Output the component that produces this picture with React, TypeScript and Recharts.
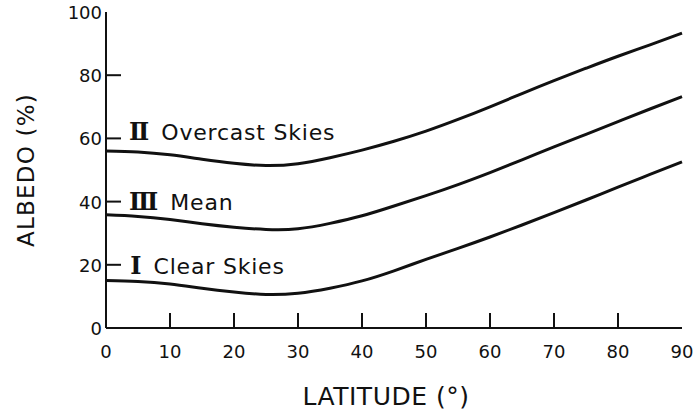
import { LineChart, Line, XAxis, YAxis, ReferenceDot } from "recharts";

// albedo (%) by latitude (deg), three sky conditions
const latitude = [0, 5, 10, 15, 20, 25, 30, 35, 40, 45, 50, 55, 60, 65, 70, 75, 80, 85, 90];
const overcast = [56, 55.7, 54.8, 53.4, 52.1, 51.4, 52, 53.9, 56.3, 59.1, 62.3, 66, 70, 74.2, 78.3, 82.2, 86, 89.6, 93.3];
const mean = [35.8, 35.3, 34.3, 33, 31.9, 31.2, 31.4, 33.1, 35.5, 38.6, 41.9, 45.4, 49.2, 53.2, 57.3, 61.3, 65.3, 69.3, 73.2];
const clear = [15, 14.7, 13.9, 12.6, 11.4, 10.6, 11, 12.6, 14.9, 18.1, 21.7, 25.2, 28.8, 32.6, 36.5, 40.5, 44.6, 48.6, 52.6];

const xTicks = [0, 10, 20, 30, 40, 50, 60, 70, 80, 90];
const yTicks = [0, 20, 40, 60, 80, 100];

const rows = latitude.map((lat, i) => ({
  lat,
  overcast: overcast[i],
  mean: mean[i],
  clear: clear[i],
}));

const INK = "#111";
const SANS = "'DejaVu Sans', sans-serif";
const SERIF = "'DejaVu Serif', serif";
const TICK = 15;

const isEdge = (v: number, lo: number, hi: number) => v === lo || v === hi;

function BottomTick({ x, y, payload }: any) {
  const v = payload.value;
  return (
    <g>
      {!isEdge(v, 0, 90) && <line x1={x} x2={x} y1={y} y2={y - TICK} stroke={INK} strokeWidth={2} />}
      <text x={x} y={y + 30} textAnchor="middle" fontSize={18} fontFamily={SANS} fill={INK}>
        {v}
      </text>
    </g>
  );
}

function TopTick({ x, y, payload }: any) {
  if (isEdge(payload.value, 0, 90)) return <g />;
  return <line x1={x} x2={x} y1={y} y2={y + TICK} stroke={INK} strokeWidth={2} />;
}

function LeftTick({ x, y, payload }: any) {
  const v = payload.value;
  return (
    <g>
      {!isEdge(v, 0, 100) && <line x1={x} x2={x + TICK} y1={y} y2={y} stroke={INK} strokeWidth={2} />}
      <text x={x - 4} y={y + 7} textAnchor="end" fontSize={18} fontFamily={SANS} fill={INK}>
        {v}
      </text>
    </g>
  );
}

function RightTick({ x, y, payload }: any) {
  if (isEdge(payload.value, 0, 100)) return <g />;
  return <line x1={x} x2={x - TICK} y1={y} y2={y} stroke={INK} strokeWidth={2} />;
}

function CurveTag({ viewBox, numeral, name }: any) {
  const { x, y } = viewBox;
  return (
    <text x={x} y={y} fontSize={22} fontFamily={SANS} fill={INK}>
      <tspan fontFamily={SERIF} fontWeight={700} fontSize={24}>
        {numeral}
      </tspan>
      <tspan dx={12} letterSpacing={0.8}>
        {name}
      </tspan>
    </text>
  );
}

function XTitle({ viewBox }: any) {
  return (
    <text
      x={viewBox.x + viewBox.width / 2 - 8}
      y={viewBox.y + viewBox.height + 47}
      textAnchor="middle"
      fontSize={25}
      letterSpacing={0.5}
      fontFamily={SANS}
      fill={INK}
    >
      LATITUDE (°)
    </text>
  );
}

function YTitle({ viewBox }: any) {
  const cx = viewBox.x - 22;
  const cy = viewBox.y + viewBox.height / 2;
  return (
    <text
      transform={`translate(${cx}, ${cy}) rotate(-90)`}
      textAnchor="middle"
      fontSize={23}
      letterSpacing={1.2}
      fontFamily={SANS}
      fill={INK}
    >
      ALBEDO (%)
    </text>
  );
}

const frame = { stroke: INK, strokeWidth: 2 };

export default function App() {
  return (
    <div style={{ width: 699, height: 412, background: "#fff" }}>
      <style>{"body{margin:0}"}</style>
      <LineChart width={699} height={412} data={rows} margin={{ top: 12, right: 17, bottom: 54, left: 56 }}>
        <XAxis
          dataKey="lat"
          type="number"
          domain={[0, 90]}
          ticks={xTicks}
          height={30}
          tickSize={0}
          tickMargin={0}
          tickLine={false}
          axisLine={frame}
          tick={<BottomTick />}
          label={<XTitle />}
        />
        <XAxis
          xAxisId="top"
          dataKey="lat"
          type="number"
          orientation="top"
          domain={[0, 90]}
          ticks={xTicks}
          height={0}
          tickSize={0}
          tickMargin={0}
          tickLine={false}
          axisLine={frame}
          tick={<TopTick />}
        />
        <YAxis
          type="number"
          domain={[0, 100]}
          ticks={yTicks}
          width={50}
          tickSize={0}
          tickMargin={0}
          tickLine={false}
          axisLine={frame}
          tick={<LeftTick />}
          label={<YTitle />}
        />
        <YAxis
          yAxisId="right"
          type="number"
          orientation="right"
          domain={[0, 100]}
          ticks={yTicks}
          width={0}
          tickSize={0}
          tickMargin={0}
          tickLine={false}
          axisLine={frame}
          tick={<RightTick />}
        />
        <Line dataKey="overcast" type="natural" stroke={INK} strokeWidth={3} dot={false} isAnimationActive={false} />
        <Line dataKey="mean" type="natural" stroke={INK} strokeWidth={3} dot={false} isAnimationActive={false} />
        <Line dataKey="clear" type="natural" stroke={INK} strokeWidth={3} dot={false} isAnimationActive={false} />
        <ReferenceDot x={3.6} y={59.5} r={0} fill="none" stroke="none" label={<CurveTag numeral="Ⅱ" name="Overcast Skies" />} />
        <ReferenceDot x={3.6} y={37.2} r={0} fill="none" stroke="none" label={<CurveTag numeral="Ⅲ" name="Mean" />} />
        <ReferenceDot x={3.8} y={17.1} r={0} fill="none" stroke="none" label={<CurveTag numeral="Ⅰ" name="Clear Skies" />} />
      </LineChart>
    </div>
  );
}
